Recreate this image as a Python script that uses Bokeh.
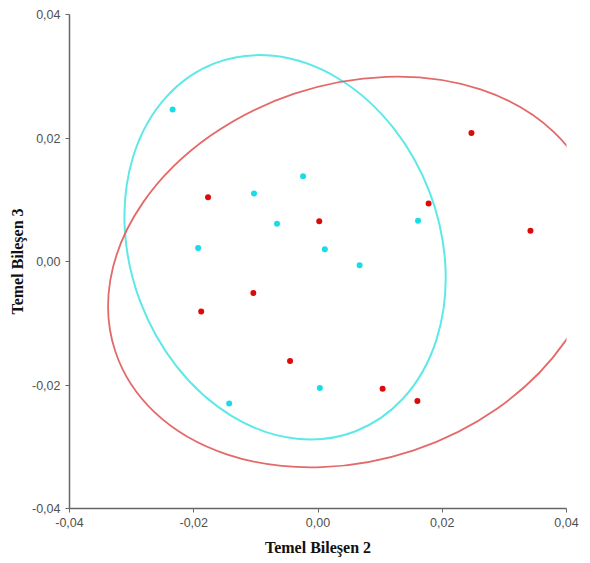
from bokeh.plotting import figure
from bokeh.models import FixedTicker, CustomJSTickFormatter, Range1d
from bokeh.embed import file_html
from bokeh.resources import INLINE

# Data: group A (cyan) and group B (red) component scores
cyan_x = [-0.0234, -0.0103, -0.0024, -0.0066, -0.0193, 0.0011, 0.0067, 0.0161, 0.0003, -0.0143]
cyan_y = [0.0246, 0.0110, 0.0138, 0.0061, 0.0022, 0.0020, -0.0006, 0.0066, -0.0205, -0.0230]
red_x = [-0.0177, 0.0002, -0.0104, -0.0188, -0.0045, 0.0104, 0.0160, 0.0247, 0.0178, 0.0342]
red_y = [0.0104, 0.0065, -0.0051, -0.0081, -0.0161, -0.0206, -0.0226, 0.0208, 0.0094, 0.0050]

# Confidence ellipses: center x, center y, width, height, angle (deg)
cyan_ell = [-0.0053, 0.0023, 0.0498, 0.0638, 20.8]
red_ell = [0.0058, -0.0017, 0.0810, 0.0609, 18.5]

ticks = [-0.04, -0.02, 0.0, 0.02, 0.04]

p = figure(width=590, height=563, output_backend="svg", toolbar_location=None,
           x_range=Range1d(-0.04, 0.04), y_range=Range1d(-0.04, 0.04),
           min_border_left=69, min_border_right=24, min_border_top=14, min_border_bottom=55)
p.outline_line_color = None
p.xgrid.visible = False
p.ygrid.visible = False
p.background_fill_color = "white"
p.border_fill_color = "white"

fmt = CustomJSTickFormatter(code="""
var v = Math.abs(tick) < 1e-9 ? 0 : tick;
return v.toFixed(2).replace('.', ',');
""")

for ax in (p.xaxis[0], p.yaxis[0]):
    ax.ticker = FixedTicker(ticks=ticks)
    ax.formatter = fmt
    ax.axis_line_color = "#666666"
    ax.axis_line_width = 1.5
    ax.major_tick_line_color = "#666666"
    ax.major_tick_out = 4
    ax.major_tick_in = 0
    ax.minor_tick_line_color = None
    ax.major_label_text_color = "#505050"
    ax.major_label_text_font = "Liberation Sans"
    ax.major_label_text_font_size = "12.5px"
    ax.axis_label_text_font = "Liberation Serif"
    ax.axis_label_text_font_style = "bold"
    ax.axis_label_text_font_size = "16px"
    ax.axis_label_text_color = "#111111"

p.xaxis.axis_label = "Temel Bileşen 2"
p.yaxis.axis_label = "Temel Bileşen 3"
p.xaxis.major_label_standoff = 5
p.xaxis.axis_label_standoff = 9
p.yaxis.major_label_standoff = 5
p.yaxis.axis_label_standoff = 3

p.ellipse(x=[cyan_ell[0]], y=[cyan_ell[1]], width=[cyan_ell[2]], height=[cyan_ell[3]],
          angle=[cyan_ell[4]], angle_units="deg", fill_color=None,
          line_color="#5EE8E8", line_width=2)
p.ellipse(x=[red_ell[0]], y=[red_ell[1]], width=[red_ell[2]], height=[red_ell[3]],
          angle=[red_ell[4]], angle_units="deg", fill_color=None,
          line_color="#E46A6A", line_width=1.8)

p.scatter(cyan_x, cyan_y, size=6, fill_color="#18DDE6", line_color=None)
p.scatter(red_x, red_y, size=6, fill_color="#DD0A0A", line_color=None)

open("out.html", "w").write(file_html(p, INLINE))
